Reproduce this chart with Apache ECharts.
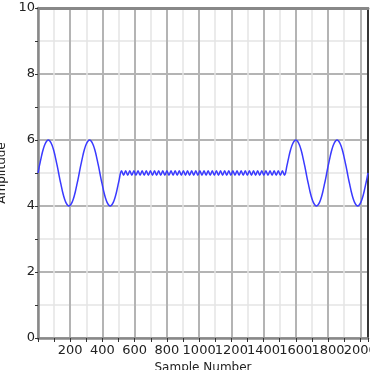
<!DOCTYPE html>
<html>
<head>
<meta charset="utf-8">
<script src="https://cdn.jsdelivr.net/npm/echarts@6/dist/echarts.min.js"></script>
<style>html,body{margin:0;padding:0;background:#fff}#c{width:370px;height:370px}</style>
</head>
<body>
<div id="c"></div>
<script>
// Segment 1: slow sine, samples 0..512
const headSamples = [0,8,16,24,32,40,48,56,64,72,80,88,96,104,112,120,128,136,144,152,160,168,176,184,192,200,208,216,224,232,240,248,256,264,272,280,288,296,304,312,320,328,336,344,352,360,368,376,384,392,400,408,416,424,432,440,448,456,464,472,480,488,496,504,512];
const headAmplitudes = [5,5.2,5.38,5.56,5.71,5.83,5.92,5.98,6,5.98,5.92,5.83,5.71,5.56,5.38,5.2,5,4.8,4.62,4.44,4.29,4.17,4.08,4.02,4,4.02,4.08,4.17,4.29,4.44,4.62,4.8,
                        5,5.2,5.38,5.56,5.71,5.83,5.92,5.98,6,5.98,5.92,5.83,5.71,5.56,5.38,5.2,5,4.8,4.62,4.44,4.29,4.17,4.08,4.02,4,4.02,4.08,4.17,4.29,4.44,4.62,4.8,5];
// Segment 2: fast small ripple, samples 512..1536
const burstSamples = [518.4,531.2,544,556.8,569.6,582.4,595.2,608,620.8,633.6,646.4,659.2,672,684.8,697.6,710.4,723.2,736,748.8,761.6,774.4,787.2,800,812.8,825.6,838.4,851.2,864,876.8,889.6,902.4,915.2,928,940.8,953.6,966.4,979.2,992,1004.8,1017.6,1030.4,1043.2,1056,1068.8,1081.6,1094.4,1107.2,1120,1132.8,1145.6,1158.4,1171.2,1184,1196.8,1209.6,1222.4,1235.2,1248,1260.8,1273.6,1286.4,1299.2,1312,1324.8,1337.6,1350.4,1363.2,1376,1388.8,1401.6,1414.4,1427.2,1440,1452.8,1465.6,1478.4,1491.2,1504,1516.8,1529.6];
const burstAmplitudes = [5.07,4.93,5.07,4.93,5.07,4.93,5.07,4.93,5.07,4.93,5.07,4.93,5.07,4.93,5.07,4.93,5.07,4.93,5.07,4.93,5.07,4.93,5.07,4.93,5.07,4.93,5.07,4.93,5.07,4.93,5.07,4.93,5.07,4.93,5.07,4.93,5.07,4.93,5.07,4.93,5.07,4.93,5.07,4.93,5.07,4.93,5.07,4.93,5.07,4.93,5.07,4.93,5.07,4.93,5.07,4.93,5.07,4.93,5.07,4.93,5.07,4.93,5.07,4.93,5.07,4.93,5.07,4.93,5.07,4.93,5.07,4.93,5.07,4.93,5.07,4.93,5.07,4.93,5.07,4.93];
// Segment 3: slow sine, samples 1536..2048
const tailSamples = [1536,1544,1552,1560,1568,1576,1584,1592,1600,1608,1616,1624,1632,1640,1648,1656,1664,1672,1680,1688,1696,1704,1712,1720,1728,1736,1744,1752,1760,1768,1776,1784,1792,1800,1808,1816,1824,1832,1840,1848,1856,1864,1872,1880,1888,1896,1904,1912,1920,1928,1936,1944,1952,1960,1968,1976,1984,1992,2000,2008,2016,2024,2032,2040,2048];
const tailAmplitudes = [5,5.2,5.38,5.56,5.71,5.83,5.92,5.98,6,5.98,5.92,5.83,5.71,5.56,5.38,5.2,5,4.8,4.62,4.44,4.29,4.17,4.08,4.02,4,4.02,4.08,4.17,4.29,4.44,4.62,4.8,
                        5,5.2,5.38,5.56,5.71,5.83,5.92,5.98,6,5.98,5.92,5.83,5.71,5.56,5.38,5.2,5,4.8,4.62,4.44,4.29,4.17,4.08,4.02,4,4.02,4.08,4.17,4.29,4.44,4.62,4.8,5];

const xMin = 0, xMax = 2048, xMajor = 200, xMinor = 100;
const yMin = 0, yMax = 10, yMajor = 2, yMinor = 1;

const data = [];
headSamples.forEach((s,i)=>data.push([s, headAmplitudes[i]]));
burstSamples.forEach((s,i)=>data.push([s, burstAmplitudes[i]]));
tailSamples.forEach((s,i)=>data.push([s, tailAmplitudes[i]]));

const font = 'DejaVu Sans';
const chart = echarts.init(document.getElementById('c'), null, {renderer:'canvas'});
chart.setOption({
  animation:false,
  grid:{left:38, right:2, top:8, bottom:32, containLabel:false, outerBoundsMode:'none'},
  xAxis:[{
    type:'value', min:xMin, max:xMax, interval:xMajor, position:'bottom',
    name:'Sample Number', nameLocation:'middle', nameGap:24,
    nameTextStyle:{fontFamily:font, fontSize:12, color:'#222'},
    axisLine:{show:true, onZero:false, lineStyle:{color:'#888', width:2.5}},
    axisTick:{show:false},
    axisLabel:{fontFamily:font, fontSize:13, color:'#222', margin:6, showMinLabel:false, showMaxLabel:false,
      hideOverlap:false, formatter:v=> (v===0||v===2048)?'':String(v)},
    splitLine:{show:true, lineStyle:{color:'#b4b4b4', width:2}}
  },{
    type:'value', min:xMin, max:xMax, interval:xMinor, position:'top',
    axisLine:{show:true, onZero:false, lineStyle:{color:'#888', width:3}},
    axisTick:{show:false}, axisLabel:{show:false},
    splitLine:{show:true, lineStyle:{color:['rgba(0,0,0,0)','#e4e4e4'], width:1.5}}
  },{
    type:'value', min:xMin, max:xMax, interval:xMinor, position:'bottom',
    axisLine:{show:false},
    axisTick:{show:true, inside:false, length:4, lineStyle:{color:'#333', width:1}},
    axisLabel:{show:false}, splitLine:{show:false}
  }],
  yAxis:[{
    type:'value', min:yMin, max:yMax, interval:yMajor, position:'left',
    name:'Amplitude', nameLocation:'middle', nameGap:25,
    nameTextStyle:{fontFamily:font, fontSize:12, color:'#222'},
    axisLine:{show:true, onZero:false, lineStyle:{color:'#888', width:2.5}},
    axisTick:{show:false},
    axisLabel:{fontFamily:font, fontSize:13, color:'#222', margin:3},
    splitLine:{show:true, lineStyle:{color:'#b4b4b4', width:2}}
  },{
    type:'value', min:yMin, max:yMax, interval:yMinor, position:'right',
    axisLine:{show:true, onZero:false, lineStyle:{color:'#000', width:1.5}},
    axisTick:{show:false}, axisLabel:{show:false},
    splitLine:{show:true, lineStyle:{color:['rgba(0,0,0,0)','#e4e4e4'], width:1.5}}
  },{
    type:'value', min:yMin, max:yMax, interval:yMinor, position:'left',
    axisLine:{show:false},
    axisTick:{show:true, inside:false, length:3, lineStyle:{color:'#333', width:1}},
    axisLabel:{show:false}, splitLine:{show:false}
  }],
  series:[{
    type:'line', xAxisIndex:0, yAxisIndex:0, data:data, smooth:0.3,
    showSymbol:false, symbol:'none',
    lineStyle:{color:'#3a3aff', width:1.5}
  }]
});
</script>
</body>
</html>
